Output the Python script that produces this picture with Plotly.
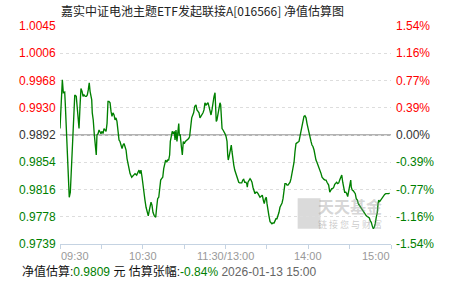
import plotly.graph_objects as go

# ---------------- data ----------------
base_nav = 0.9892
title_text = "嘉实中证电池主题ETF发起联接A[016566] 净值估算图"

minutes = [0, 1.2, 1.7, 2.4, 3.4, 3.8, 4.6, 5.3, 6.0, 6.7, 7.5, 8.2, 8.9, 9.9, 10.7, 11.8, 12.5, 13.3, 13.8, 14.5,
           15.2, 16.0, 16.7, 17.4, 18.3, 19.1, 19.8, 20.5, 21.2, 21.8, 22.3, 23.0, 23.4, 24.1, 24.9, 25.6, 26.3, 26.8, 27.6, 28.3,
           29.0, 29.7, 30.5, 31.2, 31.9, 32.6, 33.4, 34.1, 34.8, 35.5, 36.3, 37.0, 37.7, 38.4, 39.2, 39.9, 40.6, 41.3, 42.1, 42.8,
           43.5, 44.2, 45.0, 45.7, 46.4, 47.1, 47.9, 48.6, 49.5, 50.8, 52.0, 53.1, 54.4, 55.6, 56.3, 57.3, 58.0, 58.7, 59.5, 60.2,
           60.9, 61.6, 62.4, 63.1, 64.0, 65.0, 66.0, 66.7, 67.4, 68.4, 69.4, 70.1, 70.8, 71.6, 72.3, 73.0, 73.7, 74.5, 75.2, 75.9,
           76.6, 77.4, 78.1, 78.8, 79.5, 80.0, 80.7, 81.4, 82.2, 82.9, 83.4, 84.1, 84.8, 85.6, 86.1, 86.5, 87.2, 88.0, 88.7, 89.4,
           90.1, 90.9, 91.9, 92.6, 93.3, 94.0, 94.8, 95.5, 96.9, 97.7, 98.6, 99.3, 100.1, 100.8, 101.5, 102.2, 103.0, 103.7, 104.4, 105.1,
           105.9, 106.6, 107.3, 108.0, 108.8, 109.5, 110.2, 110.9, 111.7, 112.4, 112.9, 113.3, 113.8, 114.3, 115.1, 115.5, 116.0, 116.5, 117.0, 117.5,
           118.2, 118.9, 119.6, 120.4, 121.1, 121.6, 122.0, 122.8, 123.5, 124.2, 124.7, 125.2, 126.0, 126.7, 127.4, 128.1, 128.9, 129.6, 130.3, 131.0,
           131.8, 132.5, 133.2, 133.9, 134.7, 135.4, 135.8, 136.3, 137.0, 137.8, 138.5, 139.2, 139.9, 140.7, 141.4, 142.1, 142.8, 143.6, 144.3, 145.0,
           145.7, 146.7, 147.4, 148.1, 148.9, 149.6, 150.1, 150.8, 151.5, 152.3, 153.0, 153.7, 154.4, 155.2, 155.9, 156.6, 157.3, 158.1, 158.8, 159.5,
           160.3, 161.0, 161.7, 162.4, 163.1, 163.9, 164.6, 165.3, 166.0, 166.8, 167.5, 168.2, 168.9, 169.7, 170.4, 171.1, 171.8, 172.6, 173.3, 174.0,
           174.7, 175.5, 176.2, 176.9, 177.6, 178.4, 179.1, 179.8, 180.5, 181.3, 182.0, 182.7, 183.4, 184.2, 184.9, 185.6, 186.3, 187.1, 187.8, 188.5,
           189.3, 190.0, 190.7, 191.4, 192.2, 192.9, 193.6, 194.8, 195.6, 196.3, 197.0, 197.7, 198.5, 199.2, 199.9, 200.6, 201.4, 202.1, 202.8, 203.5,
           204.3, 205.0, 205.7, 206.4, 207.2, 207.9, 208.6, 209.3, 210.1, 210.8, 211.2, 211.9, 212.7, 213.4, 214.1, 214.8, 215.6, 216.3, 217.0, 217.7,
           218.5, 219.2, 219.9, 220.6, 221.4, 222.1, 222.8, 223.5, 224.3, 225.0, 225.7, 226.4, 227.2, 227.9, 228.6, 229.3, 230.1, 230.6, 231.1, 231.8,
           232.5, 233.3, 234.0, 234.7, 235.4, 236.2, 236.9, 237.6, 238.3, 239.0]

nav = [0.9901, 0.9939, 0.9969, 0.9951, 0.9952, 0.9937, 0.9899, 0.9864, 0.9826, 0.9805, 0.9812, 0.9843, 0.9873, 0.9927, 0.9948, 0.9946, 0.9930, 0.9916, 0.9901, 0.9932,
       0.9957, 0.9953, 0.9946, 0.9948, 0.9946, 0.9946, 0.9948, 0.9955, 0.9965, 0.9953, 0.9944, 0.9941, 0.9923, 0.9913, 0.9892, 0.9876, 0.9864, 0.9892, 0.9894, 0.9899,
       0.9897, 0.9894, 0.9897, 0.9894, 0.9901, 0.9899, 0.9897, 0.9908, 0.9939, 0.9939, 0.9937, 0.9925, 0.9918, 0.9923, 0.9920, 0.9913, 0.9916, 0.9911, 0.9897, 0.9885,
       0.9883, 0.9878, 0.9873, 0.9878, 0.9880, 0.9876, 0.9871, 0.9859, 0.9852, 0.9838, 0.9833, 0.9836, 0.9838, 0.9836, 0.9840, 0.9843, 0.9838, 0.9843, 0.9833, 0.9819,
       0.9810, 0.9801, 0.9791, 0.9784, 0.9779, 0.9789, 0.9798, 0.9794, 0.9784, 0.9779, 0.9777, 0.9791, 0.9803, 0.9805, 0.9817, 0.9829, 0.9831, 0.9833, 0.9845, 0.9854,
       0.9857, 0.9854, 0.9857, 0.9857, 0.9864, 0.9883, 0.9894, 0.9897, 0.9894, 0.9897, 0.9885, 0.9899, 0.9883, 0.9906, 0.9908, 0.9892, 0.9892, 0.9876, 0.9864, 0.9883,
       0.9880, 0.9883, 0.9885, 0.9885, 0.9887, 0.9890, 0.9906, 0.9916, 0.9923, 0.9932, 0.9934, 0.9927, 0.9925, 0.9923, 0.9916, 0.9918, 0.9920, 0.9923, 0.9927, 0.9937,
       0.9934, 0.9936, 0.9937, 0.9932, 0.9923, 0.9920, 0.9927, 0.9941, 0.9946, 0.9951, 0.9930, 0.9911, 0.9913, 0.9918, 0.9925, 0.9932, 0.9937, 0.9934, 0.9918, 0.9901,
       0.9899, 0.9897, 0.9894, 0.9890, 0.9883, 0.9864, 0.9857, 0.9864, 0.9873, 0.9878, 0.9869, 0.9857, 0.9850, 0.9843, 0.9838, 0.9833, 0.9830, 0.9826, 0.9825, 0.9825,
       0.9825, 0.9829, 0.9830, 0.9826, 0.9826, 0.9824, 0.9819, 0.9826, 0.9829, 0.9831, 0.9829, 0.9826, 0.9819, 0.9815, 0.9810, 0.9812, 0.9812, 0.9810, 0.9808, 0.9805,
       0.9806, 0.9808, 0.9801, 0.9796, 0.9803, 0.9805, 0.9796, 0.9782, 0.9779, 0.9771, 0.9770, 0.9768, 0.9769, 0.9769, 0.9772, 0.9775, 0.9775, 0.9779, 0.9784, 0.9791,
       0.9794, 0.9797, 0.9803, 0.9815, 0.9824, 0.9824, 0.9822, 0.9822, 0.9824, 0.9826, 0.9831, 0.9838, 0.9843, 0.9854, 0.9869, 0.9880, 0.9881, 0.9882, 0.9883, 0.9890,
       0.9897, 0.9906, 0.9913, 0.9918, 0.9919, 0.9916, 0.9908, 0.9901, 0.9894, 0.9890, 0.9883, 0.9878, 0.9876, 0.9871, 0.9862, 0.9857, 0.9854, 0.9850, 0.9847, 0.9843,
       0.9838, 0.9833, 0.9831, 0.9830, 0.9829, 0.9829, 0.9826, 0.9822, 0.9812, 0.9815, 0.9817, 0.9817, 0.9819, 0.9823, 0.9824, 0.9826, 0.9824, 0.9825, 0.9829, 0.9833,
       0.9836, 0.9826, 0.9817, 0.9812, 0.9812, 0.9810, 0.9806, 0.9812, 0.9822, 0.9829, 0.9819, 0.9815, 0.9814, 0.9812, 0.9810, 0.9803, 0.9801, 0.9796, 0.9794, 0.9791,
       0.9789, 0.9787, 0.9784, 0.9782, 0.9780, 0.9779, 0.9778, 0.9777, 0.9776, 0.9772, 0.9770, 0.9765, 0.9761, 0.9763, 0.9768, 0.9777, 0.9784, 0.9796, 0.9801, 0.9799,
       0.9801, 0.9803, 0.9805, 0.9808, 0.9809, 0.9810, 0.9810, 0.9809, 0.9810, 0.9811]

pct_steps = [1.54, 1.155, 0.77, 0.385, 0.0, -0.385, -0.77, -1.155, -1.54]
nav_labels = ["1.0045", "1.0006", "0.9968", "0.9930", "0.9892", "0.9854", "0.9816", "0.9778", "0.9739"]
pct_labels = ["1.54%", "1.16%", "0.77%", "0.39%", "0.00%", "-0.39%", "-0.77%", "-1.16%", "-1.54%"]

grid_minutes = [0, 30, 60, 90, 120, 150, 180, 210, 240]
time_ticks = [0, 60, 120, 180, 240]
time_labels = ["09:30", "10:30", "11:30/13:00", "14:00", "15:00"]

est_nav = "0.9809"
est_pct = "-0.84%"
stamp = "2026-01-13 15:00"

# ---------------- styling ----------------
RED = "#ff0000"
GREEN = "#008000"
DARK = "#333333"
NUM_FONT = "Liberation Sans, Arial, sans-serif"
CJK_FONT = "Liberation Sans, Noto Sans CJK SC, sans-serif"

tick_vals = [base_nav * (1 + p / 100) for p in pct_steps]
y_lo = base_nav * (1 - 1.54 / 100)
y_hi = base_nav * (1 + 1.54 / 100)

fig = go.Figure()
fig.add_trace(go.Scatter(x=minutes, y=nav, mode="lines",
                         line=dict(color=GREEN, width=1.35), hoverinfo="skip",
                         showlegend=False))

# baseline
fig.add_shape(type="line", xref="paper", x0=0, x1=1, yref="y", y0=base_nav, y1=base_nav,
              line=dict(color="#9a9a9a", width=1.3), layer="below")

annotations = []
for v, p, nl, pl in zip(tick_vals, pct_steps, nav_labels, pct_labels):
    col = RED if p > 0 else (DARK if p == 0 else GREEN)
    annotations.append(dict(x=0, xref="paper", y=v, yref="y", text=nl, showarrow=False,
                            xanchor="right", yanchor="middle", xshift=-2,
                            font=dict(family=NUM_FONT, size=12, color=col)))
    annotations.append(dict(x=1, xref="paper", y=v, yref="y", text=pl, showarrow=False,
                            xanchor="left", yanchor="middle", xshift=3,
                            font=dict(family=NUM_FONT, size=12, color=col)))

for i, (t, lab) in enumerate(zip(time_ticks, time_labels)):
    anchor = "left" if i == 0 else ("right" if i == len(time_ticks) - 1 else "center")
    annotations.append(dict(x=t, xref="x", y=-0.055, yref="paper", text=lab, showarrow=False,
                            xanchor=anchor, yanchor="middle", xshift=(-1 if i == 0 else (1 if anchor == "right" else 0)),
                            font=dict(family=NUM_FONT, size=11, color="#999999")))

# title
annotations.append(dict(x=0.43, xref="paper", y=1.069, yref="paper", text=title_text,
                        showarrow=False, xanchor="center", yanchor="middle",
                        font=dict(family="Noto Sans CJK SC, sans-serif", size=12, color="#222222")))

# footer
footer = ("净值估算:<span style='color:%s'>%s</span> 元 估算张幅:<span style='color:%s'>%s</span> "
          "<span style='color:#666666'>%s</span>") % (GREEN, est_nav, GREEN, est_pct, stamp)
annotations.append(dict(x=-0.1208, xref="paper", y=-0.124, yref="paper", text=footer,
                        showarrow=False, xanchor="left", yanchor="middle",
                        font=dict(family=CJK_FONT, size=12, color="#111111")))

# watermark
annotations.append(dict(x=0.875, xref="paper", y=0.175, yref="paper", text="<b>天天基金</b>",
                        showarrow=False, xanchor="center", yanchor="middle",
                        font=dict(family="Noto Sans CJK SC, sans-serif", size=16, color="rgba(150,150,150,0.4)")))
annotations.append(dict(x=0.875, xref="paper", y=0.09, yref="paper", text="链 接 您 与 财 富",
                        showarrow=False, xanchor="center", yanchor="middle",
                        font=dict(family="Noto Sans CJK SC, sans-serif", size=9, color="rgba(150,150,150,0.5)")))
fig.add_shape(type="rect", xref="paper", yref="paper", x0=0.718, x1=0.787, y0=0.07, y1=0.21,
              fillcolor="rgba(150,150,150,0.35)", line=dict(width=0), layer="below")

fig.update_layout(
    width=451, height=281, autosize=False,
    margin=dict(l=60, r=60, t=26, b=37, pad=0),
    paper_bgcolor="white", plot_bgcolor="white",
    annotations=annotations,
    xaxis=dict(range=[0, 240], tickvals=grid_minutes, showticklabels=False,
               ticks="outside", ticklen=4, tickcolor="#c5d3e2", tickwidth=1,
               showline=True, linecolor="#c5d3e2", linewidth=1, showgrid=False,
               zeroline=False, fixedrange=True),
    yaxis=dict(range=[y_lo, y_hi], tickvals=tick_vals, showticklabels=False,
               showgrid=True, gridcolor="#dddddd", griddash="dot", gridwidth=1,
               zeroline=False, ticks="", fixedrange=True),
)

fig.write_html("out.html", config={"displayModeBar": False})
